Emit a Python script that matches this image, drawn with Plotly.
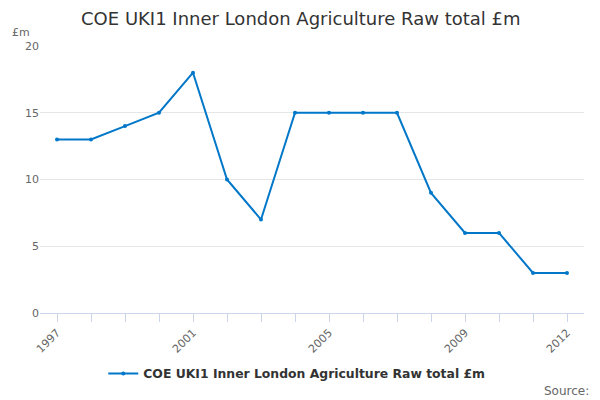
import plotly.graph_objects as go

# data
years = list(range(1997, 2013))
values = [13, 13, 14, 15, 18, 10, 7, 15, 15, 15, 15, 9, 6, 6, 3, 3]
labelled_years = [1997, 2001, 2005, 2009, 2012]
series_name = "COE UKI1 Inner London Agriculture Raw total £m"

tick_text = [str(y) if y in labelled_years else "" for y in years]

fig = go.Figure()
fig.add_trace(go.Scatter(
    x=years, y=values, mode="lines+markers", name="<b>" + series_name + "</b>",
    line=dict(color="#0077c8", width=2),
    marker=dict(color="#0077c8", size=4),
))

# the page puts the plot ~7px in from the corner, so margins are pulled in to suit
fig.update_layout(
    width=600, height=400,
    paper_bgcolor="white", plot_bgcolor="white",
    font=dict(family="DejaVu Sans", color="#666666", size=11),
    title=dict(text=series_name, x=0.488, xref="container", xanchor="center",
               y=0.99, yanchor="top", font=dict(size=18, color="#333333")),
    margin=dict(l=32, r=24, t=38, b=95, autoexpand=False),
    showlegend=True,
    legend=dict(orientation="h", x=0.472, xanchor="center", y=-0.228, yanchor="middle",
                font=dict(size=12.4, color="#333333", family="DejaVu Sans"),
                itemwidth=30),
    annotations=[
        dict(text="£m", x=-0.055, y=1.049, xref="paper", yref="paper", showarrow=False,
             xanchor="left", yanchor="middle", font=dict(size=11, color="#666666")),
        dict(text="Source:", x=1.013, y=-0.292, xref="paper", yref="paper", showarrow=False,
             xanchor="right", yanchor="middle", font=dict(size=12, color="#666666")),
    ],
)

fig.update_xaxes(
    range=[1996.5, 2012.5], tickmode="array", tickvals=years, ticktext=tick_text,
    tickangle=-45, ticks="outside", ticklen=8, tickcolor="#ccd6eb",
    showline=True, linecolor="#ccd6eb", linewidth=1, showgrid=False, zeroline=False,
    tickfont=dict(size=11, color="#666666"), automargin=False,
)
fig.update_yaxes(
    range=[0, 20], tickvals=[0, 5, 10, 15, 20], showgrid=True, gridcolor="#e6e6e6",
    zeroline=False, showline=False, ticks="", tickfont=dict(size=11, color="#666666"),
    automargin=False,
)

fig.write_html("out.html")
